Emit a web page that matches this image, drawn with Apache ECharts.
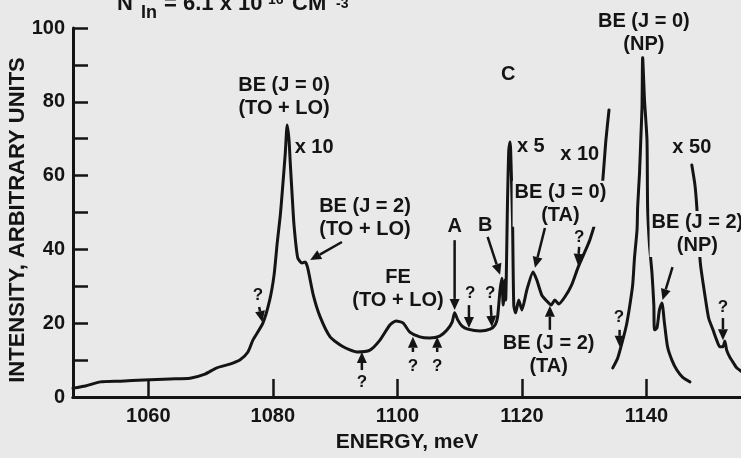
<!DOCTYPE html>
<html>
<head>
<meta charset="utf-8">
<script src="https://cdn.jsdelivr.net/npm/echarts@6.0.0/dist/echarts.min.js"></script>
<style>
html, body { margin: 0; padding: 0; background: #e9e9e9; }
#chart { width: 741px; height: 458px; }
</style>
</head>
<body>
<div id="chart"></div>
<script>
// 主谱段（TO+LO 声子伴线 → TA 区，最后一段为 x10 上升沿）
var mainEnergy = [1047.9, 1049.9, 1052.3, 1055.5, 1059.3, 1063.5, 1066.7, 1069.1, 1071.0, 1073.1,
  1074.7, 1076.0, 1076.8, 1078.4, 1079.5, 1080.2, 1080.7, 1081.2, 1081.5, 1082.0,
  1082.3, 1082.6, 1082.8, 1083.1, 1083.4, 1084.0, 1084.7, 1085.2, 1085.6, 1086.5,
  1087.6, 1089.2, 1091.3, 1093.5, 1095.6, 1097.2, 1098.8, 1099.8, 1100.9, 1102.0,
  1103.6, 1105.2, 1106.8, 1108.0, 1108.8, 1109.2, 1109.7, 1110.4, 1111.3, 1113.3,
  1114.9, 1115.7, 1116.1, 1116.5, 1116.8, 1117.0, 1117.3, 1117.4, 1117.7, 1117.9,
  1118.1, 1118.2, 1118.5, 1118.7, 1119.0, 1119.5, 1120.0, 1120.8, 1121.8, 1122.4,
  1123.2, 1124.0, 1124.7, 1125.3, 1125.9, 1126.9, 1128.0, 1129.0, 1129.9, 1130.9,
  1131.9, 1132.5, 1133.0, 1133.5, 1134.0];
var mainIntensity = [2.4, 3.0, 4.1, 4.3, 4.6, 4.9, 5.1, 6.2, 7.9, 8.9,
  10.0, 12.2, 15.4, 20.0, 26.3, 33.1, 41.7, 49.3, 55.3, 66.1,
  73.7, 69.6, 63.4, 54.7, 46.6, 37.7, 36.3, 36.6, 35.0, 27.6,
  21.7, 16.3, 13.6, 12.2, 12.7, 15.4, 19.5, 20.6, 20.1, 17.6,
  16.3, 16.0, 16.5, 18.2, 20.3, 22.8, 20.9, 19.2, 18.4, 17.9,
  18.4, 19.5, 21.7, 29.0, 32.2, 24.9, 31.7, 26.3, 53.4, 66.9,
  69.1, 66.9, 48.0, 24.9, 22.8, 26.3, 23.6, 29.0, 33.9, 31.7,
  27.6, 26.0, 24.9, 26.3, 25.2, 27.1, 30.4, 35.0, 38.5, 42.5,
  48.0, 52.0, 58.8, 69.6, 77.8];

// 无声子线（NP）段
var npEnergy = [1134.6, 1135.4, 1136.2, 1136.8, 1137.3, 1137.8, 1138.1, 1138.5, 1138.6, 1138.9,
  1139.1, 1139.3, 1139.4, 1139.7, 1140.1, 1140.2, 1140.5, 1140.9, 1141.2, 1141.3,
  1141.7, 1142.1, 1142.5, 1142.9, 1143.4, 1144.1, 1144.9, 1145.8, 1147.0];
var npIntensity = [7.9, 10.6, 15.4, 19.5, 24.4, 30.4, 37.9, 45.3, 51.5, 60.7,
  69.6, 78.6, 92.1, 80.5, 69.6, 51.5, 41.2, 33.6, 24.9, 18.2,
  18.7, 23.6, 25.5, 20.1, 13.6, 10.0, 7.3, 5.4, 4.1];

// x50 段
var x50Energy = [1147.3, 1147.8, 1148.1, 1148.4, 1148.7, 1149.4, 1150.0, 1150.7, 1151.3, 1151.8,
  1152.3, 1152.6, 1152.9, 1153.4, 1154.0, 1154.5, 1155.2];
var x50Intensity = [62.9, 57.5, 51.5, 42.5, 35.8, 27.6, 21.4, 18.2, 15.4, 13.6,
  13.6, 15.2, 12.7, 10.8, 9.2, 7.9, 7.0];

var energyTicks = [1060, 1080, 1100, 1120, 1140];
var intensityTicks = [0, 20, 40, 60, 80, 100];

// 标注文字：能量、强度、内容、对齐、是否遮挡曲线
var notes = [
  [1081.8, 81.4, 'BE (J = 0)\n(TO + LO)', 'center', false],
  [1083.5, 67.5, 'x 10', 'left', false],
  [1094.8, 48.4, 'BE (J = 2)\n(TO + LO)', 'center', false],
  [1100.1, 29.3, 'FE\n(TO + LO)', 'center', false],
  [1109.2, 46.1, 'A', 'center', false],
  [1114.1, 46.6, 'B', 'center', false],
  [1117.8, 87.3, 'C', 'center', false],
  [1119.2, 67.8, 'x 5', 'left', false],
  [1129.3, 65.6, 'x 10', 'center', false],
  [1126.2, 52.4, 'BE (J = 0)\n(TA)', 'center', true],
  [1124.3, 11.5, 'BE (J = 2)\n(TA)', 'center', false],
  [1139.6, 98.6, 'BE (J = 0)\n(NP)', 'center', true],
  [1147.3, 67.5, 'x 50', 'center', false],
  [1148.2, 44.2, 'BE (J = 2)\n(NP)', 'center', true]
];
var questions = [
  [1077.6, 27.6], [1094.3, 4.1], [1102.5, 8.4], [1106.4, 8.4], [1111.7, 28.2],
  [1114.9, 28.2], [1129.2, 43.4], [1135.6, 21.7], [1152.3, 24.4]
];
// 箭头：起点 → 终点（箭头端）
var arrows = [
  [1091.1, 42.0, 1086.0, 37.1],
  [1077.8, 24.4, 1078.3, 20.3],
  [1094.3, 7.3, 1094.3, 12.2],
  [1102.5, 12.2, 1102.5, 16.3],
  [1106.4, 12.2, 1106.4, 16.3],
  [1109.2, 42.5, 1109.2, 23.6],
  [1111.5, 24.9, 1111.5, 18.7],
  [1115.0, 24.9, 1115.2, 19.0],
  [1114.5, 43.4, 1116.5, 33.1],
  [1123.7, 45.8, 1122.1, 35.0],
  [1129.2, 40.7, 1129.0, 35.8],
  [1124.5, 18.2, 1124.5, 24.7],
  [1135.7, 18.2, 1135.7, 13.6],
  [1144.2, 35.2, 1142.6, 26.3],
  [1152.3, 21.4, 1152.3, 15.4]
];

var ink = '#141414';
var bg = '#e9e9e9';
var font = '"Liberation Sans", Arial, sans-serif';
var xMin = 1047.9, xMax = 1155.2;

function pairs(xs, ys) {
  return xs.map(function (x, i) { return [x, ys[i]]; });
}

function lineSeries(name, data) {
  return {
    name: name,
    type: 'line',
    data: data,
    symbol: 'none',
    smooth: 0.2,
    clip: false,
    lineStyle: { color: ink, width: 3, cap: 'round', join: 'round' },
    z: 2
  };
}

var option = {
  backgroundColor: bg,
  animation: false,
  grid: { left: 73, right: 0, top: 28, bottom: 61 },
  xAxis: [
    {
      type: 'value',
      min: xMin,
      max: xMax,
      axisLine: { show: true, onZero: false, lineStyle: { color: ink, width: 3 } },
      axisTick: { show: true, inside: true, length: 18, customValues: energyTicks, lineStyle: { color: ink, width: 2.5 } },
      axisLabel: {
        customValues: energyTicks, color: ink, fontSize: 20, fontWeight: 'bold', fontFamily: font, margin: 9,
        formatter: function (v) { return String(v); }
      },
      splitLine: { show: false },
      name: 'ENERGY, meV',
      nameLocation: 'middle',
      nameGap: 35,
      nameTextStyle: { color: ink, fontSize: 21, fontWeight: 'bold', fontFamily: font }
    },
    {
      type: 'value',
      position: 'top',
      min: xMin,
      max: xMax,
      axisLine: { show: true, lineStyle: { color: ink, width: 3 } },
      axisTick: { show: false },
      axisLabel: { show: false },
      splitLine: { show: false }
    }
  ],
  yAxis: {
    type: 'value',
    min: 0,
    max: 100,
    interval: 10,
    axisLine: { show: true, lineStyle: { color: ink, width: 3 } },
    axisTick: { show: true, inside: true, length: 15, lineStyle: { color: ink, width: 2.5 } },
    axisLabel: {
      color: ink, fontSize: 20, fontWeight: 'bold', fontFamily: font, margin: 8,
      formatter: function (v) { return intensityTicks.indexOf(v) >= 0 ? String(v) : ''; }
    },
    splitLine: { show: false }
  },
  series: [
    lineSeries('main', pairs(mainEnergy, mainIntensity)),
    lineSeries('np', pairs(npEnergy, npIntensity)),
    lineSeries('x50', pairs(x50Energy, x50Intensity))
  ]
};

var chart = echarts.init(document.getElementById('chart'));
chart.setOption(option);

function px(x, y) {
  return chart.convertToPixel({ xAxisIndex: 0, yAxisIndex: 0 }, [x, y]);
}

var elements = [];

notes.forEach(function (n) {
  var p = px(n[0], n[1]);
  elements.push({
    type: 'text',
    x: p[0], y: p[1], z: 100,
    style: {
      text: n[2], fill: ink, font: 'bold 20px ' + font,
      align: n[3], verticalAlign: 'middle', lineHeight: 23,
      backgroundColor: n[4] ? bg : 'transparent', padding: n[4] ? [0, 2] : 0
    }
  });
});

questions.forEach(function (q) {
  var p = px(q[0], q[1]);
  elements.push({
    type: 'text', x: p[0], y: p[1], z: 100,
    style: { text: '?', fill: ink, font: 'bold 17px ' + font, align: 'center', verticalAlign: 'middle' }
  });
});

arrows.forEach(function (a) {
  var p1 = px(a[0], a[1]);
  var p2 = px(a[2], a[3]);
  var dx = p2[0] - p1[0], dy = p2[1] - p1[1];
  var len = Math.sqrt(dx * dx + dy * dy);
  var ux = dx / len, uy = dy / len;
  var head = 11, half = 5;
  var bx = p2[0] - ux * head, by = p2[1] - uy * head;
  elements.push({
    type: 'line', z: 100,
    shape: { x1: p1[0], y1: p1[1], x2: bx, y2: by },
    style: { stroke: ink, lineWidth: 2.5 }
  });
  elements.push({
    type: 'polygon', z: 100,
    shape: { points: [[p2[0], p2[1]], [bx - uy * half, by + ux * half], [bx + uy * half, by - ux * half]] },
    style: { fill: ink }
  });
});

// 纵轴标题
elements.push({
  type: 'text', x: 18, y: 220, rotation: Math.PI / 2, z: 100,
  style: { text: 'INTENSITY, ARBITRARY UNITS', fill: ink, font: 'bold 22px ' + font, align: 'center', verticalAlign: 'middle' }
});

// 顶部（被裁掉一半的）样品浓度说明：各段 [文字, x, 底边 y, 字号]
var headParts = [
  ['N', 117, 15, 22],
  ['In', 141, 22, 18],
  ['= 6.1 x 10', 164, 15, 22],
  ['16', 268, 7, 14],
  ['CM', 292, 15, 22],
  ['-3', 336, 11, 14]
];
headParts.forEach(function (h) {
  elements.push({
    type: 'text', x: h[1], y: h[2], z: 100,
    style: { text: h[0], fill: ink, font: 'bold ' + h[3] + 'px ' + font, align: 'left', verticalAlign: 'bottom' }
  });
});

chart.setOption({ graphic: { elements: elements } });
</script>
</body>
</html>
